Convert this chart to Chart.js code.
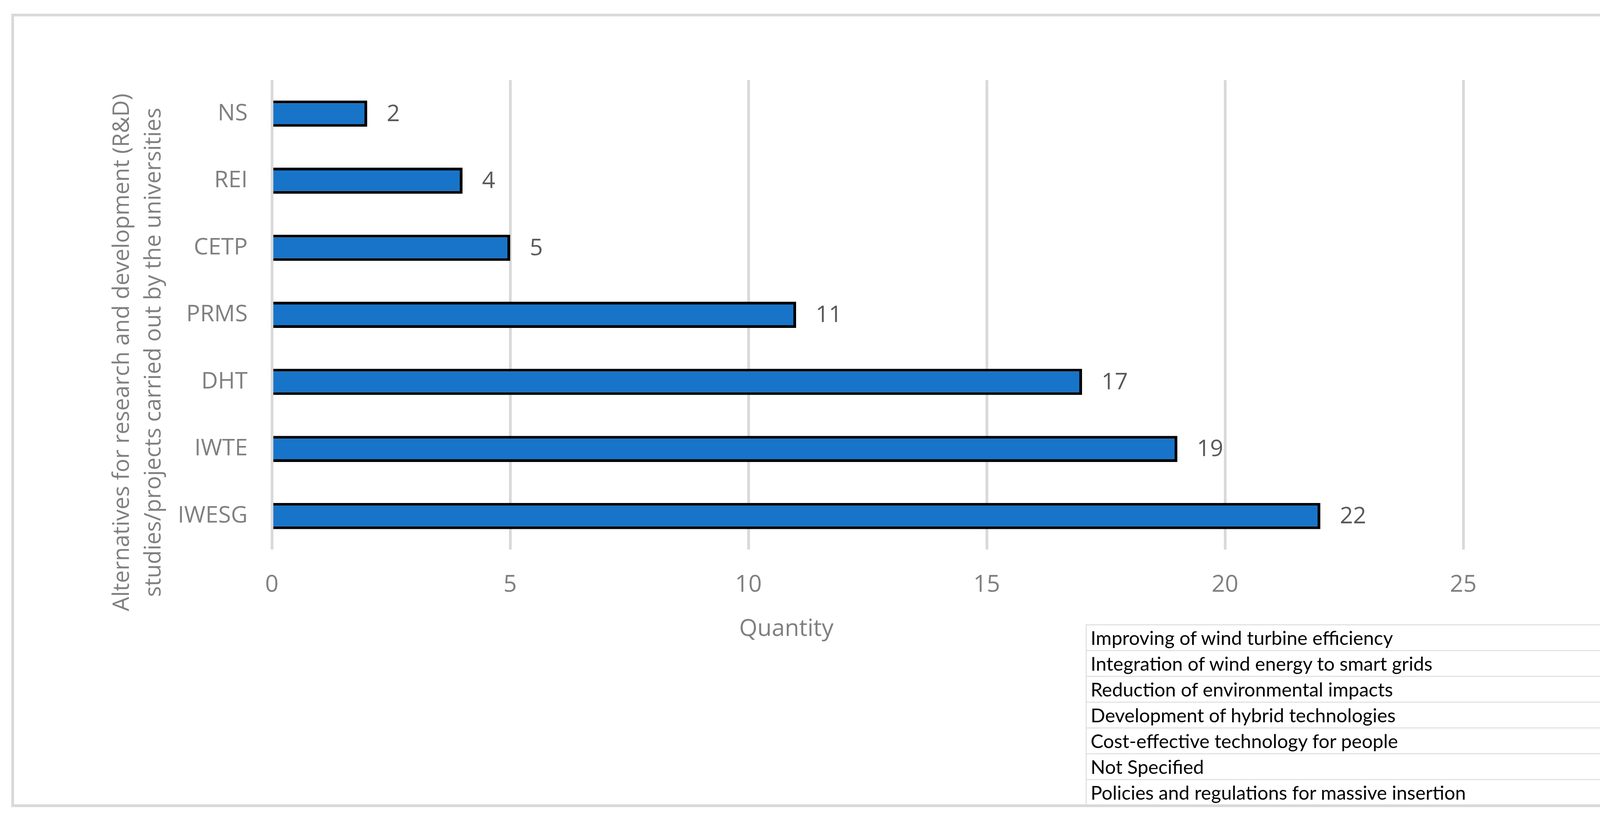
<!DOCTYPE html>
<html>
<head>
<meta charset="utf-8">
<script src="https://cdn.jsdelivr.net/npm/chart.js@4.4.0/dist/chart.umd.min.js"></script>
<style>
  html, body { margin: 0; padding: 0; background: #fff; }
  #wrap { position: relative; width: 4428px; height: 2098px; overflow: hidden; }
  #chart { position: absolute; left: 0; top: 0; }
  #frame { position: absolute; left: 29px; top: 35px; width: 4365px; height: 2030px;
           box-sizing: border-box; border: 7px solid #d9d9d9; pointer-events: none; z-index: 2; }
  #legend { position: absolute; left: 2779px; top: 1597px; width: 1613px; border-collapse: collapse;
            font-family: Lato, sans-serif; font-size: 49px; color: #000; background: #fff; z-index: 1; }
  #legend tr { height: 66px; }
  #legend td { border: 3px solid #e3e3e3; padding: 0 10px; line-height: 1; white-space: nowrap; }
  #legend td.code { text-align: center; width: 250px; }
</style>
</head>
<body>
<div id="wrap">
  <canvas id="chart" width="4428" height="2098"></canvas>
  <table id="legend"></table>
  <div id="frame"></div>
</div>
<script>
// chart data
const categories = ['NS', 'REI', 'CETP', 'PRMS', 'DHT', 'IWTE', 'IWESG'];
const quantities = [2, 4, 5, 11, 17, 19, 22];
const xTicks = [0, 5, 10, 15, 20, 25];
const yTitleLines = ['Alternatives for research and development (R&D)',
                     'studies/projects carried out by the universities'];
const xTitle = 'Quantity';

// abbreviation table
const legendNames = [
    'Improving of wind turbine efficiency',
    'Integration of wind energy to smart grids',
    'Reduction of environmental impacts',
    'Development of hybrid technologies',
    'Cost-effective technology for people',
    'Not Specified',
    'Policies and regulations for massive insertion'
];
const legendCodes = ['IWTE', 'IWESG', 'REI', 'DHT', 'CETP', 'NS', 'PRMS'];

const table = document.getElementById('legend');
legendNames.forEach(function (name, i) {
    const tr = document.createElement('tr');
    const tdName = document.createElement('td');
    tdName.textContent = name;
    const tdCode = document.createElement('td');
    tdCode.className = 'code';
    tdCode.textContent = legendCodes[i];
    tr.appendChild(tdName);
    tr.appendChild(tdCode);
    table.appendChild(tr);
});

// value labels to the right of each bar
const barLabels = {
    id: 'barLabels',
    afterDatasetsDraw(chart) {
        const ctx = chart.ctx;
        const meta = chart.getDatasetMeta(0);
        ctx.save();
        ctx.font = '59px "Open Sans"';
        ctx.fillStyle = '#595959';
        ctx.textAlign = 'left';
        ctx.textBaseline = 'middle';
        meta.data.forEach(function (bar, i) {
            ctx.fillText(String(quantities[i]), bar.x + 50, bar.y + 2);
        });
        ctx.restore();
    }
};

// axis titles (placed off-centre like the original)
const axisTitles = {
    id: 'axisTitles',
    afterDraw(chart) {
        const ctx = chart.ctx;
        const area = chart.chartArea;
        ctx.save();
        ctx.fillStyle = '#808080';
        ctx.font = '60px "Open Sans"';
        ctx.textAlign = 'center';
        ctx.textBaseline = 'alphabetic';
        ctx.fillText(xTitle, area.left + 0.4318 * (area.right - area.left), area.bottom + 221);

        ctx.font = '58px "Open Sans"';
        ctx.translate(area.left - 366, (area.top + area.bottom) / 2 + 96);
        ctx.rotate(-Math.PI / 2);
        yTitleLines.forEach(function (line, i) {
            ctx.fillText(line, 0, i * 81);
        });
        ctx.restore();
    }
};

function draw() {
    Chart.defaults.font.family = '"Open Sans"';
    new Chart(document.getElementById('chart'), {
        type: 'bar',
        data: {
            labels: categories,
            datasets: [{
                data: quantities,
                backgroundColor: '#1874C8',
                borderColor: '#000000',
                borderWidth: 7,
                barPercentage: 0.39,
                categoryPercentage: 1.0
            }]
        },
        options: {
            indexAxis: 'y',
            responsive: false,
            devicePixelRatio: 1,
            animation: false,
            layout: { padding: { left: 0, top: 205, right: 682, bottom: 0 } },
            plugins: {
                legend: { display: false },
                tooltip: { enabled: false }
            },
            scales: {
                x: {
                    min: xTicks[0],
                    max: xTicks[xTicks.length - 1],
                    ticks: { stepSize: xTicks[1] - xTicks[0], color: '#808080', font: { size: 60 }, padding: 55 },
                    grid: { color: '#d9d9d9', lineWidth: 7, drawTicks: false },
                    border: { display: false },
                    afterFit: function (scale) { scale.height = 692; }
                },
                y: {
                    ticks: { color: '#808080', font: { size: 59 }, padding: 62 },
                    grid: { display: false, drawTicks: false },
                    border: { display: false },
                    afterFit: function (scale) { scale.width = 696; }
                }
            }
        },
        plugins: [barLabels, axisTitles]
    });
}

Promise.all([
    document.fonts.load('60px "Open Sans"'),
    document.fonts.load('49px Lato')
]).then(draw, draw);
</script>
</body>
</html>
